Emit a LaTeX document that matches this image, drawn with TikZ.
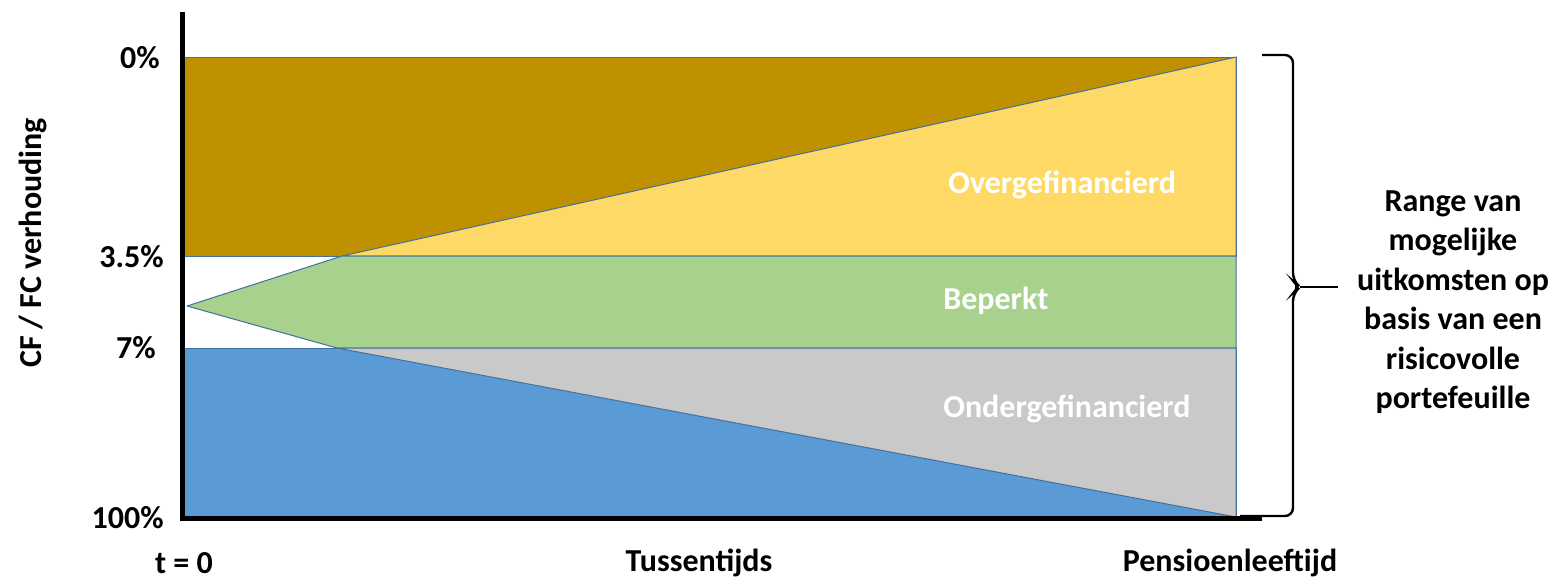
\documentclass[tikz,border=0pt]{standalone}
\usepackage{fontspec}
\setmainfont{Carlito}
\usepackage{xcolor}
\definecolor{bandbrown}{HTML}{BF9000}
\definecolor{bandyellow}{HTML}{FFD966}
\definecolor{bandgreen}{HTML}{A9D18E}
\definecolor{bandblue}{HTML}{5B9BD5}
\definecolor{bandgrey}{HTML}{C9C9C9}
\definecolor{edgeblue}{HTML}{41719C}
\usepackage{tikz}
\usetikzlibrary{positioning}

\begin{document}
\begin{tikzpicture}[x=0.5pt, y=-0.5pt,%
	band/.style={draw=edgeblue, line width=0.5pt, line join=round},
	lbl/.style={font=\bfseries\fontsize{16}{19.75}\selectfont, inner sep=0pt},
	inlbl/.style={font=\bfseries\fontsize{16}{19}\selectfont, text=white,
		inner sep=0pt, anchor=west},
	axis/.style={line width=2.5pt},
	brace/.style={line width=1.2pt, rounded corners=4pt}%
	]
	\useasboundingbox (0,0) rectangle (1563,586);
	%
	% Corners
	%
	\coordinate (APEX) at (187,306);
	\coordinate (UP) at (342,256);
	\coordinate (LO) at (337,348);
	\coordinate (TR) at (1236,57);
	\coordinate (R35) at (1236,256);
	\coordinate (R7) at (1236,348);
	\coordinate (BR) at (1236,517);
	%
	% Bands
	%
	\path[band, fill=bandbrown] (184,57) rectangle (R35);
	\path[band, fill=bandyellow] (UP) -- (TR) -- (R35) -- cycle;
	\path[band, fill=bandgreen] (APEX) -- (UP) -- (R35) -- (R7) -- (LO) -- cycle;
	\path[band, fill=bandblue] (184,348) rectangle (BR);
	\path[band, fill=bandgrey] (LO) -- (R7) -- (BR) -- cycle;
	%
	% Axes
	%
	\draw[axis] (182,12) -- (182,518) -- (1262,518);
	%
	% Brace
	%
	\coordinate (TIP) at (1300,287);
	\draw[brace] (1262,55) -- (1293,55) -- (1293,281) -- (TIP) -- (1293,293)
		-- (1293,516) -- (1240,516);
	\draw[line width=1.2pt] (TIP) -- (1338,287);
	%
	% Labels
	%
	\node[lbl, anchor=east] (P0) at (160,58) {0\%};
	\node[lbl, anchor=east] (P35) at (164,257) {3.5\%};
	\node[lbl, anchor=east] (P7) at (156,348) {7\%};
	\node[lbl, anchor=east] (P100) at (164,518) {100\%};
	\node[lbl, rotate=90] (YLAB) at (33,243) {CF / FC verhouding};
	\node[lbl] (T0) at (184,563) {t = 0};
	\node[lbl] (TUS) at (699,563) {Tussentijds};
	\node[lbl] (PENS) at (1230,563) {Pensioenleeftijd};
	\node[inlbl] (OVER) at (948,185) {Overgefinancierd};
	\node[inlbl] (BEP) at (943,301) {Beperkt};
	\node[inlbl] (ONDER) at (943,409) {Ondergefinancierd};
	\node[lbl, align=center] (RANGE) at (1453,302)
		{Range van\\ mogelijke\\ uitkomsten op\\ basis van een\\ risicovolle\\ portefeuille};
\end{tikzpicture}
\end{document}
